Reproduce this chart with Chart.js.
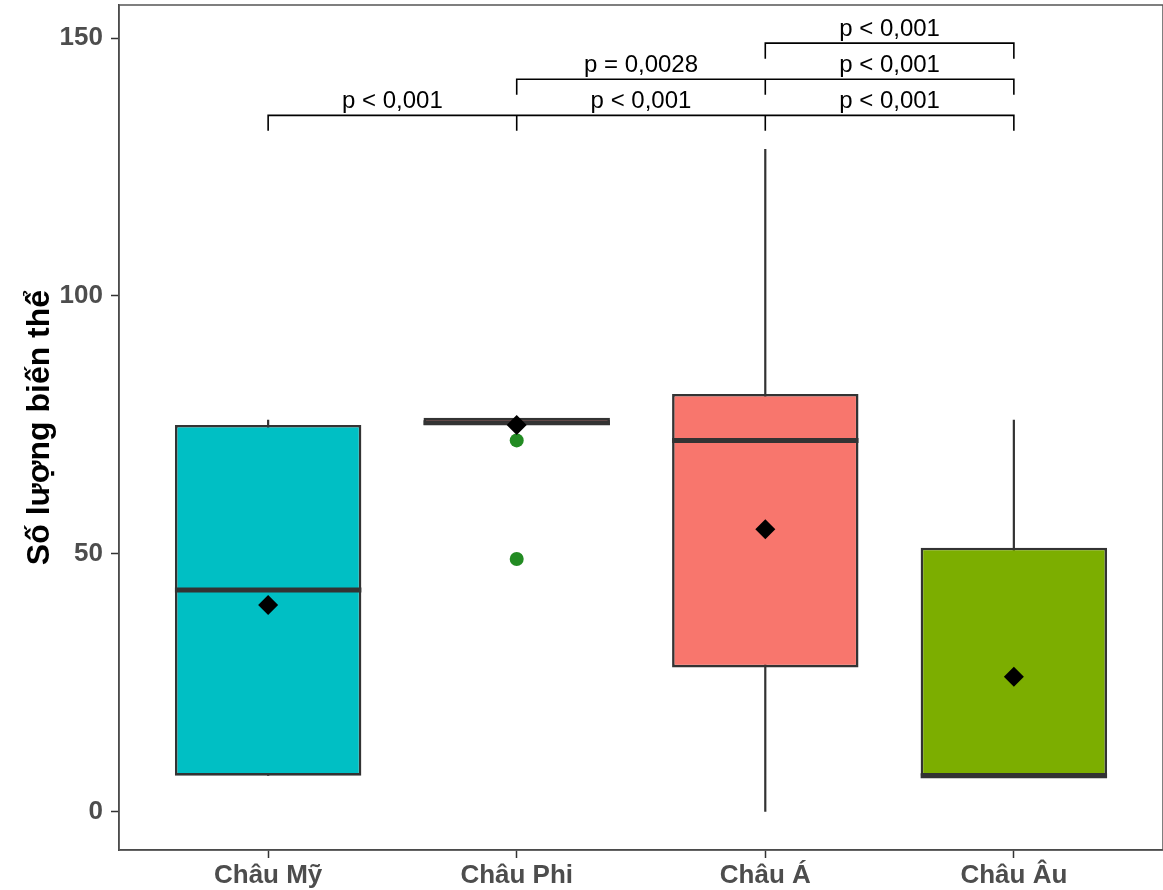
<!DOCTYPE html>
<html>
<head>
<meta charset="utf-8">
<script src="https://cdn.jsdelivr.net/npm/chart.js@4"></script>
<style>
  html, body { margin: 0; padding: 0; background: #ffffff; }
  #wrap { width: 1163px; height: 890px; position: relative; }
</style>
</head>
<body>
<div id="wrap"><canvas id="c"></canvas></div>
<script>
// ---- data ----
const categories = ['Châu Mỹ', 'Châu Phi', 'Châu Á', 'Châu Âu'];
const q1Values = [7, 75, 28, 7];
const medianValues = [43, 75.4, 72, 7];
const q3Values = [75, 76.4, 81, 51.2];
const whiskerLow = [7, 75, 0, 7];
const whiskerHigh = [76, 76.4, 128.5, 76];
const meanValues = [40.1, 75, 54.8, 26.2];
const outlierGroup = [1, 1];
const outlierValue = [72, 49];
const yTickValues = [0, 50, 100, 150];
const bracketFrom = [0, 1, 2, 1, 2, 2];
const bracketTo = [1, 2, 3, 2, 3, 3];
const bracketLevel = [135, 135, 135, 142, 142, 149];
const bracketLabel = ['p < 0,001', 'p < 0,001', 'p < 0,001', 'p = 0,0028', 'p < 0,001', 'p < 0,001'];
const fillColors = ['#00BFC4', '#F8766D', '#F8766D', '#7CAE00'];

// ---- derived datasets ----
const HALF = 0.375;
const TIP = 3;
const whiskerData = [];
categories.forEach((c, i) => {
  whiskerData.push({x: i, y: whiskerLow[i]}, {x: i, y: whiskerHigh[i]}, {x: i, y: null});
});
const boxData = categories.map((c, i) => ({x: i, y: [q1Values[i], q3Values[i]]}));
const medianData = [];
categories.forEach((c, i) => {
  medianData.push({x: i - HALF, y: medianValues[i]}, {x: i + HALF, y: medianValues[i]}, {x: i, y: null});
});
const meanData = categories.map((c, i) => ({x: i, y: meanValues[i]}));
const outlierData = outlierGroup.map((g, k) => ({x: g, y: outlierValue[k]}));
const bracketData = [];
bracketFrom.forEach((f, k) => {
  const t = bracketTo[k], lv = bracketLevel[k];
  bracketData.push({x: f, y: lv - TIP}, {x: f, y: lv}, {x: t, y: lv}, {x: t, y: lv - TIP}, {x: t, y: null});
});

const FONT = "'Liberation Sans', Arial, sans-serif";

const zeroPadding = (s) => { s.paddingTop = 0; s.paddingBottom = 0; s.paddingLeft = 0; s.paddingRight = 0; };

const borderPlugin = {
  id: 'panelBorder',
  afterDraw(chart) {
    const {ctx, chartArea: a} = chart;
    ctx.save();
    ctx.strokeStyle = '#555555';
    ctx.lineWidth = 1.5;
    ctx.strokeRect(a.left, a.top, a.right - a.left, a.bottom - a.top);
    ctx.restore();
  }
};
const labelPlugin = {
  id: 'bracketLabels',
  afterDatasetsDraw(chart) {
    const {ctx, scales: {x, y}} = chart;
    ctx.save();
    ctx.fillStyle = '#000000';
    ctx.font = "24px " + FONT;
    ctx.textAlign = 'center';
    ctx.textBaseline = 'alphabetic';
    bracketLabel.forEach((lab, k) => {
      const mx = x.getPixelForValue((bracketFrom[k] + bracketTo[k]) / 2);
      const py = y.getPixelForValue(bracketLevel[k]) - 7;
      ctx.fillText(lab, mx, py);
    });
    ctx.restore();
  }
};

new Chart(document.getElementById('c'), {
  type: 'bar',
  data: {
    datasets: [
      {
        type: 'line', label: 'whiskers', data: whiskerData, order: 5,
        borderColor: '#333333', borderWidth: 2.2, pointRadius: 0, spanGaps: false, fill: false
      },
      {
        type: 'bar', label: 'box', data: boxData, order: 4,
        backgroundColor: fillColors, borderColor: '#333333', borderWidth: 2.6,
        borderSkipped: false, barPercentage: 0.75, categoryPercentage: 1, grouped: false
      },
      {
        type: 'line', label: 'median', data: medianData, order: 3,
        borderColor: '#333333', borderWidth: 5, pointRadius: 0, spanGaps: false, fill: false
      },
      {
        type: 'line', label: 'outliers', data: outlierData, order: 2, showLine: false,
        pointStyle: 'circle', pointRadius: 7, pointBackgroundColor: '#228B22', pointBorderWidth: 0
      },
      {
        type: 'line', label: 'mean', data: meanData, order: 1, showLine: false,
        pointStyle: 'rectRot', pointRadius: 10, pointBackgroundColor: '#000000', pointBorderWidth: 0
      },
      {
        type: 'line', label: 'brackets', data: bracketData, order: 0,
        borderColor: '#000000', borderWidth: 1.6, pointRadius: 0, spanGaps: false, fill: false
      }
    ]
  },
  options: {
    responsive: true,
    maintainAspectRatio: false,
    animation: false,
    layout: { autoPadding: false, padding: { top: 5, right: 0, left: 0, bottom: 0 } },
    plugins: { legend: { display: false }, tooltip: { enabled: false } },
    scales: {
      x: {
        type: 'linear', min: -0.6, max: 3.6, offset: false,
        afterBuildTicks: (s) => { s.ticks = categories.map((c, i) => ({value: i})); },
        afterFit: (s) => { s.height = 40; zeroPadding(s); },
        grid: { offset: false, drawOnChartArea: false, drawTicks: true, tickLength: 8, tickColor: '#333333', tickWidth: 1.5 },
        border: { display: true, color: '#333333', width: 1.5 },
        ticks: {
          callback: (v) => categories[v] !== undefined ? categories[v] : '',
          color: '#4D4D4D', padding: 2, maxRotation: 0, autoSkip: false,
          font: { family: FONT, size: 26, weight: 'bold' }
        }
      },
      y: {
        type: 'linear', min: -7.4, max: 156.4,
        afterBuildTicks: (s) => { s.ticks = yTickValues.map(v => ({value: v})); },
        afterFit: (s) => { s.width = 119; zeroPadding(s); },
        grid: { drawOnChartArea: false, drawTicks: true, tickLength: 8, tickColor: '#333333', tickWidth: 1.5 },
        border: { display: true, color: '#333333', width: 1.5 },
        ticks: {
          color: '#4D4D4D', padding: 8,
          font: { family: FONT, size: 26, weight: 'bold' }
        },
        title: {
          display: true, text: 'Số lượng biến thể', color: '#000000',
          padding: { top: 21, bottom: 0 },
          font: { family: FONT, size: 32, weight: 'bold' }
        }
      }
    }
  },
  plugins: [borderPlugin, labelPlugin]
});
</script>
</body>
</html>
